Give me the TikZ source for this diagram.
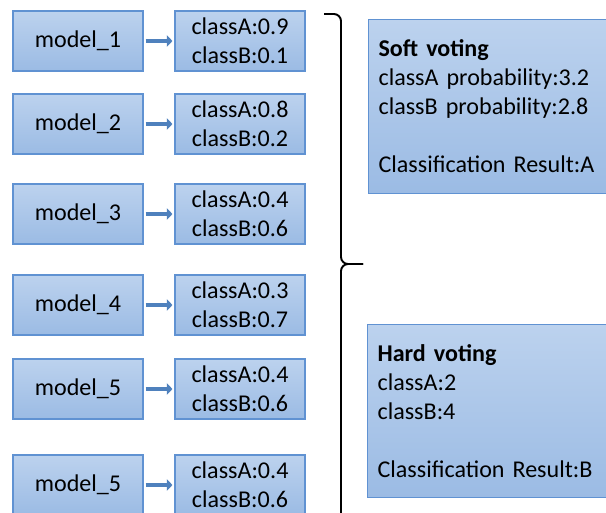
\documentclass[tikz,border=0pt]{standalone}
\usepackage{fontspec}
\setmainfont{Carlito}[WordSpace=0.85]
\usetikzlibrary{arrows.meta}
\definecolor{boxtop}{RGB}{188,210,238}
\definecolor{boxbot}{RGB}{155,187,228}
\definecolor{boxline}{RGB}{96,146,210}
\definecolor{arrowblue}{RGB}{79,129,189}
\begin{document}
\begin{tikzpicture}
  [x=0.02cm, y=-0.02cm,
   every node/.style={font=\fontsize{13.7pt}{16.5pt}\selectfont},
   box/.style={draw=boxline, line width=0.7pt, top color=boxtop, bottom color=boxbot,
     minimum width=2.6cm, minimum height=1.2cm, align=center},
   vote/.style={box, anchor=north west, align=left, text width=4.48cm,
     inner xsep=0.2cm, minimum height=3.48cm},
   flow/.style={arrowblue, line width=2.6pt, -{Triangle[length=3.2pt,width=6.5pt]},
     shorten <=1.1pt, shorten >=1.1pt},
   bracket/.style={black, line width=1.1pt, rounded corners=4pt}]
  \useasboundingbox (0,0) rectangle (606,512);
  \clip (0,0) rectangle (606,512);
  % models and their class probabilities
  \foreach \i/\lbl/\y/\pa/\pb in {1/1/41/0.9/0.1, 2/2/124/0.8/0.2, 3/3/214/0.4/0.6,
      4/4/305/0.3/0.7, 5/5/389/0.4/0.6, 6/5/485/0.4/0.6}{
    \node[box] (m\i) at (78,\y) {model\_\lbl};
    \node[box] (c\i) at (240,\y) {classA:\pa\\classB:\pb};
    \draw[flow] (m\i) -- (c\i);
  }
  % brace
  \draw[bracket] (324,14) -| (341,264) -- (363,264);
  \draw[bracket] (363,264) -- (341,264) |- (324,520);
  % results
  \node[vote] (soft) at (368,19) {\textbf{Soft voting}\\classA probability:3.2\\classB probability:2.8\\[16.5pt]Classification Result:A};
  \node[vote, minimum height=3.46cm] (hard) at (367,324) {\textbf{Hard voting}\\classA:2\\classB:4\\[16.5pt]Classification Result:B};
\end{tikzpicture}
\end{document}
